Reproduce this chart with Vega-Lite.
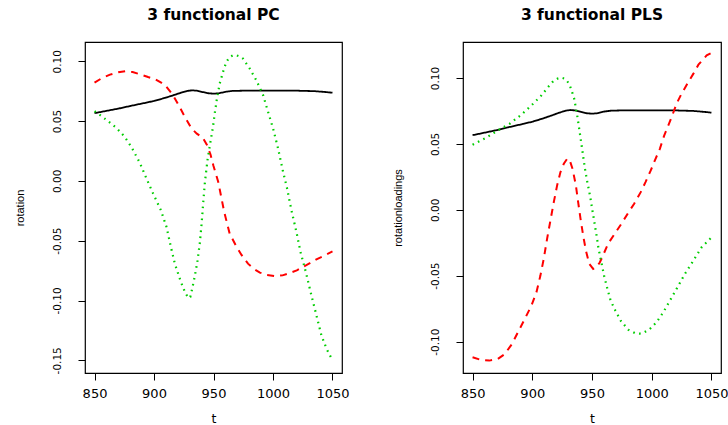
{
  "$schema": "https://vega.github.io/schema/vega-lite/v6.json",
  "background": "white",
  "padding": {"left": 13, "top": 6, "right": 0, "bottom": 0},
  "autosize": {"type": "pad"},
  "bounds": "flush",
  "spacing": 121,
  "config": {
    "view": {"stroke": "black", "strokeWidth": 1.2},
    "axis": {"domain": false, "grid": false, "tickColor": "black", "tickSize": 7, "tickWidth": 1, "labelColor": "black", "titleColor": "black", "titleFontWeight": "normal", "labelFlush": false, "labelOverlap": false}
  },
  "datasets": {
    "pc": [
      {"t": 850, "c": "1", "v": 0.0566}, {"t": 860, "c": "1", "v": 0.0585}, {"t": 870, "c": "1", "v": 0.0604}, {"t": 880, "c": "1", "v": 0.0626}, {"t": 892, "c": "1", "v": 0.0651}, {"t": 900, "c": "1", "v": 0.0668}, {"t": 909, "c": "1", "v": 0.0693}, {"t": 916, "c": "1", "v": 0.0715}, {"t": 923, "c": "1", "v": 0.0738}, {"t": 928, "c": "1", "v": 0.0752}, {"t": 932, "c": "1", "v": 0.0757}, {"t": 936, "c": "1", "v": 0.0754}, {"t": 940, "c": "1", "v": 0.0745}, {"t": 945, "c": "1", "v": 0.0733}, {"t": 950, "c": "1", "v": 0.0729}, {"t": 955, "c": "1", "v": 0.0733}, {"t": 960, "c": "1", "v": 0.0745}, {"t": 966, "c": "1", "v": 0.0752}, {"t": 975, "c": "1", "v": 0.0754}, {"t": 990, "c": "1", "v": 0.0755}, {"t": 1005, "c": "1", "v": 0.0755}, {"t": 1020, "c": "1", "v": 0.0754}, {"t": 1035, "c": "1", "v": 0.0750}, {"t": 1045, "c": "1", "v": 0.0742}, {"t": 1050, "c": "1", "v": 0.0737},
      {"t": 850, "c": "2", "v": 0.0821}, {"t": 856, "c": "2", "v": 0.0858}, {"t": 863, "c": "2", "v": 0.0888}, {"t": 870, "c": "2", "v": 0.0908}, {"t": 876, "c": "2", "v": 0.0916}, {"t": 882, "c": "2", "v": 0.0910}, {"t": 888, "c": "2", "v": 0.0892}, {"t": 895, "c": "2", "v": 0.0868}, {"t": 901, "c": "2", "v": 0.0849}, {"t": 906, "c": "2", "v": 0.0822}, {"t": 910.5, "c": "2", "v": 0.0785}, {"t": 916, "c": "2", "v": 0.0716}, {"t": 921, "c": "2", "v": 0.0628}, {"t": 926, "c": "2", "v": 0.0534}, {"t": 931.6, "c": "2", "v": 0.0437}, {"t": 936, "c": "2", "v": 0.0395}, {"t": 941, "c": "2", "v": 0.0360}, {"t": 944.5, "c": "2", "v": 0.0300}, {"t": 947.5, "c": "2", "v": 0.0220}, {"t": 950, "c": "2", "v": 0.0125}, {"t": 954, "c": "2", "v": -0.0009}, {"t": 959, "c": "2", "v": -0.0260}, {"t": 963.6, "c": "2", "v": -0.0441}, {"t": 968.7, "c": "2", "v": -0.0539}, {"t": 973.4, "c": "2", "v": -0.0617}, {"t": 979, "c": "2", "v": -0.0692}, {"t": 984, "c": "2", "v": -0.0736}, {"t": 989, "c": "2", "v": -0.0767}, {"t": 995, "c": "2", "v": -0.0787}, {"t": 1001.5, "c": "2", "v": -0.0795}, {"t": 1008, "c": "2", "v": -0.0790}, {"t": 1014, "c": "2", "v": -0.0770}, {"t": 1020, "c": "2", "v": -0.0748}, {"t": 1025, "c": "2", "v": -0.0720}, {"t": 1031, "c": "2", "v": -0.0688}, {"t": 1036.5, "c": "2", "v": -0.0656}, {"t": 1043, "c": "2", "v": -0.0625}, {"t": 1050, "c": "2", "v": -0.0590},
      {"t": 850, "c": "3", "v": 0.0582}, {"t": 855, "c": "3", "v": 0.0548}, {"t": 859.3, "c": "3", "v": 0.0515}, {"t": 864, "c": "3", "v": 0.0478}, {"t": 868.5, "c": "3", "v": 0.0442}, {"t": 875.5, "c": "3", "v": 0.0367}, {"t": 881, "c": "3", "v": 0.0283}, {"t": 888, "c": "3", "v": 0.0153}, {"t": 893.7, "c": "3", "v": 0.0019}, {"t": 899.3, "c": "3", "v": -0.0107}, {"t": 905.8, "c": "3", "v": -0.0246}, {"t": 910.5, "c": "3", "v": -0.0385}, {"t": 914.2, "c": "3", "v": -0.0553}, {"t": 917.5, "c": "3", "v": -0.0692}, {"t": 922.6, "c": "3", "v": -0.0845}, {"t": 926, "c": "3", "v": -0.0929}, {"t": 928.8, "c": "3", "v": -0.0979}, {"t": 930.5, "c": "3", "v": -0.0970}, {"t": 932.1, "c": "3", "v": -0.0901}, {"t": 934.4, "c": "3", "v": -0.0790}, {"t": 936.6, "c": "3", "v": -0.0665}, {"t": 938.6, "c": "3", "v": -0.0511}, {"t": 940, "c": "3", "v": -0.0358}, {"t": 941.4, "c": "3", "v": -0.0177}, {"t": 942.8, "c": "3", "v": -0.0009}, {"t": 945.1, "c": "3", "v": 0.0186}, {"t": 947.9, "c": "3", "v": 0.0353}, {"t": 949.7, "c": "3", "v": 0.0460}, {"t": 951, "c": "3", "v": 0.0562}, {"t": 952.9, "c": "3", "v": 0.0688}, {"t": 955.2, "c": "3", "v": 0.0813}, {"t": 958, "c": "3", "v": 0.0911}, {"t": 960.8, "c": "3", "v": 0.0995}, {"t": 963.6, "c": "3", "v": 0.1035}, {"t": 966.5, "c": "3", "v": 0.1050}, {"t": 969.2, "c": "3", "v": 0.1050}, {"t": 972, "c": "3", "v": 0.1040}, {"t": 974.8, "c": "3", "v": 0.1022}, {"t": 980.5, "c": "3", "v": 0.0938}, {"t": 986, "c": "3", "v": 0.0841}, {"t": 991.7, "c": "3", "v": 0.0716}, {"t": 995.9, "c": "3", "v": 0.0576}, {"t": 1000.1, "c": "3", "v": 0.0437}, {"t": 1004.3, "c": "3", "v": 0.0270}, {"t": 1008.5, "c": "3", "v": 0.0075}, {"t": 1011.9, "c": "3", "v": -0.0065}, {"t": 1015.5, "c": "3", "v": -0.0246}, {"t": 1019.7, "c": "3", "v": -0.0427}, {"t": 1023.1, "c": "3", "v": -0.0594}, {"t": 1027.6, "c": "3", "v": -0.0762}, {"t": 1032.3, "c": "3", "v": -0.0957}, {"t": 1036.5, "c": "3", "v": -0.1124}, {"t": 1040.7, "c": "3", "v": -0.1291}, {"t": 1045, "c": "3", "v": -0.1403}, {"t": 1050, "c": "3", "v": -0.1500}
    ],
    "pls": [
      {"t": 850, "c": "1", "v": 0.0566}, {"t": 860, "c": "1", "v": 0.0585}, {"t": 870, "c": "1", "v": 0.0604}, {"t": 880, "c": "1", "v": 0.0626}, {"t": 892, "c": "1", "v": 0.0651}, {"t": 900, "c": "1", "v": 0.0668}, {"t": 909, "c": "1", "v": 0.0693}, {"t": 916, "c": "1", "v": 0.0715}, {"t": 923, "c": "1", "v": 0.0738}, {"t": 928, "c": "1", "v": 0.0752}, {"t": 932, "c": "1", "v": 0.0757}, {"t": 936, "c": "1", "v": 0.0754}, {"t": 940, "c": "1", "v": 0.0745}, {"t": 945, "c": "1", "v": 0.0733}, {"t": 950, "c": "1", "v": 0.0729}, {"t": 955, "c": "1", "v": 0.0733}, {"t": 960, "c": "1", "v": 0.0745}, {"t": 966, "c": "1", "v": 0.0752}, {"t": 975, "c": "1", "v": 0.0754}, {"t": 990, "c": "1", "v": 0.0755}, {"t": 1005, "c": "1", "v": 0.0755}, {"t": 1020, "c": "1", "v": 0.0754}, {"t": 1035, "c": "1", "v": 0.0750}, {"t": 1045, "c": "1", "v": 0.0742}, {"t": 1050, "c": "1", "v": 0.0737},
      {"t": 850, "c": "2", "v": -0.1119}, {"t": 857, "c": "2", "v": -0.1139}, {"t": 864, "c": "2", "v": -0.1144}, {"t": 871, "c": "2", "v": -0.1132}, {"t": 877, "c": "2", "v": -0.1094}, {"t": 883, "c": "2", "v": -0.1018}, {"t": 888, "c": "2", "v": -0.0929}, {"t": 893.7, "c": "2", "v": -0.0828}, {"t": 899.3, "c": "2", "v": -0.0727}, {"t": 903.5, "c": "2", "v": -0.0625}, {"t": 906.8, "c": "2", "v": -0.0499}, {"t": 909.6, "c": "2", "v": -0.0372}, {"t": 912.4, "c": "2", "v": -0.0220}, {"t": 915.2, "c": "2", "v": -0.0081}, {"t": 918, "c": "2", "v": 0.0058}, {"t": 920.8, "c": "2", "v": 0.0185}, {"t": 923.6, "c": "2", "v": 0.0286}, {"t": 926.4, "c": "2", "v": 0.0349}, {"t": 929.2, "c": "2", "v": 0.0387}, {"t": 931, "c": "2", "v": 0.0385}, {"t": 933.7, "c": "2", "v": 0.0311}, {"t": 936.5, "c": "2", "v": 0.0185}, {"t": 938.4, "c": "2", "v": 0.0058}, {"t": 940.4, "c": "2", "v": -0.0068}, {"t": 942.6, "c": "2", "v": -0.0195}, {"t": 944.9, "c": "2", "v": -0.0309}, {"t": 947.7, "c": "2", "v": -0.0410}, {"t": 951, "c": "2", "v": -0.0448}, {"t": 953.6, "c": "2", "v": -0.0435}, {"t": 956.5, "c": "2", "v": -0.0400}, {"t": 959.2, "c": "2", "v": -0.0347}, {"t": 963.4, "c": "2", "v": -0.0258}, {"t": 969, "c": "2", "v": -0.0182}, {"t": 974.6, "c": "2", "v": -0.0106}, {"t": 980.3, "c": "2", "v": -0.0023}, {"t": 985.3, "c": "2", "v": 0.0046}, {"t": 990.8, "c": "2", "v": 0.0134}, {"t": 994.8, "c": "2", "v": 0.0210}, {"t": 999.2, "c": "2", "v": 0.0299}, {"t": 1003.2, "c": "2", "v": 0.0387}, {"t": 1006.8, "c": "2", "v": 0.0463}, {"t": 1010.5, "c": "2", "v": 0.0565}, {"t": 1013.9, "c": "2", "v": 0.0640}, {"t": 1017.2, "c": "2", "v": 0.0716}, {"t": 1020.8, "c": "2", "v": 0.0805}, {"t": 1025, "c": "2", "v": 0.0881}, {"t": 1030.7, "c": "2", "v": 0.0970}, {"t": 1034.9, "c": "2", "v": 0.1033}, {"t": 1039.1, "c": "2", "v": 0.1101}, {"t": 1046, "c": "2", "v": 0.1172}, {"t": 1050, "c": "2", "v": 0.1190},
      {"t": 850, "c": "3", "v": 0.0494}, {"t": 860.9, "c": "3", "v": 0.0544}, {"t": 871.3, "c": "3", "v": 0.0603}, {"t": 881.1, "c": "3", "v": 0.0653}, {"t": 890.9, "c": "3", "v": 0.0722}, {"t": 899.3, "c": "3", "v": 0.0792}, {"t": 907.7, "c": "3", "v": 0.0868}, {"t": 913.3, "c": "3", "v": 0.0932}, {"t": 917.5, "c": "3", "v": 0.0975}, {"t": 921.7, "c": "3", "v": 0.0998}, {"t": 924.5, "c": "3", "v": 0.1002}, {"t": 927.3, "c": "3", "v": 0.0995}, {"t": 930.9, "c": "3", "v": 0.0957}, {"t": 932.9, "c": "3", "v": 0.0906}, {"t": 935.1, "c": "3", "v": 0.0843}, {"t": 937.6, "c": "3", "v": 0.0716}, {"t": 939.9, "c": "3", "v": 0.0577}, {"t": 942.1, "c": "3", "v": 0.0438}, {"t": 944.1, "c": "3", "v": 0.0311}, {"t": 946.1, "c": "3", "v": 0.0210}, {"t": 948.3, "c": "3", "v": 0.0109}, {"t": 950.6, "c": "3", "v": -0.0018}, {"t": 953.6, "c": "3", "v": -0.0182}, {"t": 955.5, "c": "3", "v": -0.0296}, {"t": 957.8, "c": "3", "v": -0.0397}, {"t": 960.1, "c": "3", "v": -0.0499}, {"t": 962.9, "c": "3", "v": -0.0600}, {"t": 965.6, "c": "3", "v": -0.0689}, {"t": 969.6, "c": "3", "v": -0.0765}, {"t": 974, "c": "3", "v": -0.0841}, {"t": 980.3, "c": "3", "v": -0.0909}, {"t": 985.8, "c": "3", "v": -0.0934}, {"t": 989.5, "c": "3", "v": -0.0940}, {"t": 992.9, "c": "3", "v": -0.0934}, {"t": 998.4, "c": "3", "v": -0.0904}, {"t": 1004, "c": "3", "v": -0.0853}, {"t": 1009.7, "c": "3", "v": -0.0777}, {"t": 1015.2, "c": "3", "v": -0.0689}, {"t": 1020.8, "c": "3", "v": -0.0600}, {"t": 1027.8, "c": "3", "v": -0.0486}, {"t": 1034.9, "c": "3", "v": -0.0385}, {"t": 1041.8, "c": "3", "v": -0.0284}, {"t": 1050, "c": "3", "v": -0.0210}
    ]
  },
  "hconcat": [
    {
      "width": 257, "height": 331,
      "title": {"text": "3 functional PC", "font": "DejaVu Sans", "fontSize": 15.5, "fontWeight": "bold", "offset": 7, "baseline": "alphabetic", "anchor": "middle", "frame": "group", "color": "black"},
      "data": {"name": "pc"},
      "mark": {"type": "line", "strokeCap": "butt"},
      "encoding": {
        "x": {"field": "t", "type": "quantitative", "scale": {"domain": [842, 1058], "nice": false, "zero": false},
              "axis": {"values": [850, 900, 950, 1000, 1050], "format": "d", "title": "t", "labelFont": "DejaVu Sans", "labelFontSize": 13, "labelPadding": 7, "titleFont": "DejaVu Sans", "titleFontSize": 12.5, "titlePadding": 12}},
        "y": {"field": "v", "type": "quantitative", "scale": {"domain": [-0.1606, 0.1161], "nice": false, "zero": false},
              "axis": {"values": [-0.15, -0.1, -0.05, 0, 0.05, 0.1], "format": ".2f", "labelExpr": "replace(datum.label, '\u2212', '-')", "labelAngle": -90, "labelAlign": "center", "labelBaseline": "bottom", "labelPadding": 16, "labelFont": "DejaVu Sans", "labelFontSize": 10.5, "title": "rotation", "titleFont": "Liberation Sans", "titleFontSize": 11, "titlePadding": 27}},
        "color": {"field": "c", "type": "nominal", "scale": {"domain": ["1", "2", "3"], "range": ["#000000", "#FF0000", "#00CD00"]}, "legend": null},
        "strokeDash": {"field": "c", "type": "nominal", "scale": {"domain": ["1", "2", "3"], "range": [[1, 0], [7, 6], [1.6, 4.4]]}, "legend": null},
        "size": {"field": "c", "type": "ordinal", "scale": {"domain": ["1", "2", "3"], "range": [1.8, 2.2, 1.7]}, "legend": null}
      }
    },
    {
      "width": 258, "height": 331,
      "title": {"text": "3 functional PLS", "font": "DejaVu Sans", "fontSize": 15.5, "fontWeight": "bold", "offset": 7, "baseline": "alphabetic", "anchor": "middle", "frame": "group", "color": "black"},
      "data": {"name": "pls"},
      "mark": {"type": "line", "strokeCap": "butt"},
      "encoding": {
        "x": {"field": "t", "type": "quantitative", "scale": {"domain": [842, 1058], "nice": false, "zero": false},
              "axis": {"values": [850, 900, 950, 1000, 1050], "format": "d", "title": "t", "labelFont": "DejaVu Sans", "labelFontSize": 13, "labelPadding": 7, "titleFont": "DejaVu Sans", "titleFontSize": 12.5, "titlePadding": 12}},
        "y": {"field": "v", "type": "quantitative", "scale": {"domain": [-0.1238, 0.1273], "nice": false, "zero": false},
              "axis": {"values": [-0.1, -0.05, 0, 0.05, 0.1], "format": ".2f", "labelExpr": "replace(datum.label, '\u2212', '-')", "labelAngle": -90, "labelAlign": "center", "labelBaseline": "bottom", "labelPadding": 16, "labelFont": "DejaVu Sans", "labelFontSize": 10.5, "title": "rotationloadings", "titleFont": "Liberation Sans", "titleFontSize": 11, "titlePadding": 27}},
        "color": {"field": "c", "type": "nominal", "scale": {"domain": ["1", "2", "3"], "range": ["#000000", "#FF0000", "#00CD00"]}, "legend": null},
        "strokeDash": {"field": "c", "type": "nominal", "scale": {"domain": ["1", "2", "3"], "range": [[1, 0], [7, 6], [1.6, 4.4]]}, "legend": null},
        "size": {"field": "c", "type": "ordinal", "scale": {"domain": ["1", "2", "3"], "range": [1.8, 2.2, 1.7]}, "legend": null}
      }
    }
  ]
}
